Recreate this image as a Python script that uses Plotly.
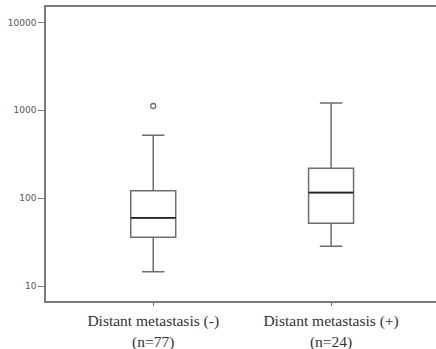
import plotly.graph_objects as go

categories = ["Distant metastasis (-)<br>(n=77)", "Distant metastasis (+)<br>(n=24)"]
x_pos = [0, 1]
q1 = [36, 52]
median = [60, 116]
q3 = [122, 219]
lower_fence = [14.6, 28.5]
upper_fence = [520, 1213]
outlier_x = [0]
outlier_y = [1120]
y_tickvals = [10, 100, 1000, 10000]
y_ticktext = ["10", "100", "1000", "10000"]

LINE = "#6e6e6e"
BOXW = 0.253

fig = go.Figure()
for i in range(len(x_pos)):
    fig.add_trace(go.Box(
        x=[x_pos[i]], q1=[q1[i]], median=[median[i]], q3=[q3[i]],
        lowerfence=[lower_fence[i]], upperfence=[upper_fence[i]],
        width=BOXW, whiskerwidth=0.5,
        fillcolor="rgba(0,0,0,0)", line=dict(color=LINE, width=1.5),
        boxpoints=False, showlegend=False, hoverinfo="skip"))
    fig.add_trace(go.Scatter(
        x=[x_pos[i] - BOXW / 2, x_pos[i] + BOXW / 2], y=[median[i], median[i]],
        mode="lines", line=dict(color="#222222", width=1.8),
        showlegend=False, hoverinfo="skip"))

fig.add_trace(go.Scatter(
    x=outlier_x, y=outlier_y, mode="markers",
    marker=dict(symbol="circle-open", size=5, color=LINE, line=dict(width=1.3)),
    showlegend=False, hoverinfo="skip"))

fig.update_layout(
    width=436, height=349,
    margin=dict(l=46, r=0, t=7, b=48),
    paper_bgcolor="white", plot_bgcolor="white",
    xaxis=dict(
        range=[-0.603, 1.59], tickvals=x_pos, ticktext=categories,
        showline=True, linecolor="#7a7a7a", linewidth=1.5, mirror=True,
        ticks="outside", ticklen=3, tickcolor="#7a7a7a", ticklabelstandoff=2,
        showgrid=False, zeroline=False, automargin=False,
        tickfont=dict(family="Liberation Serif", size=15.5, color="#333333")),
    yaxis=dict(
        type="log", range=[0.832, 4.175], tickvals=y_tickvals, ticktext=y_ticktext,
        showline=True, linecolor="#7a7a7a", linewidth=1.5, mirror=False,
        ticks="outside", ticklen=6, tickcolor="#7a7a7a",
        showgrid=False, zeroline=False, automargin=False,
        tickfont=dict(family="DejaVu Sans", size=9, color="#555555")),
)

fig.write_html("out.html", config={"displayModeBar": False},
               post_script="document.body.style.margin='0';document.body.style.overflow='hidden';")
